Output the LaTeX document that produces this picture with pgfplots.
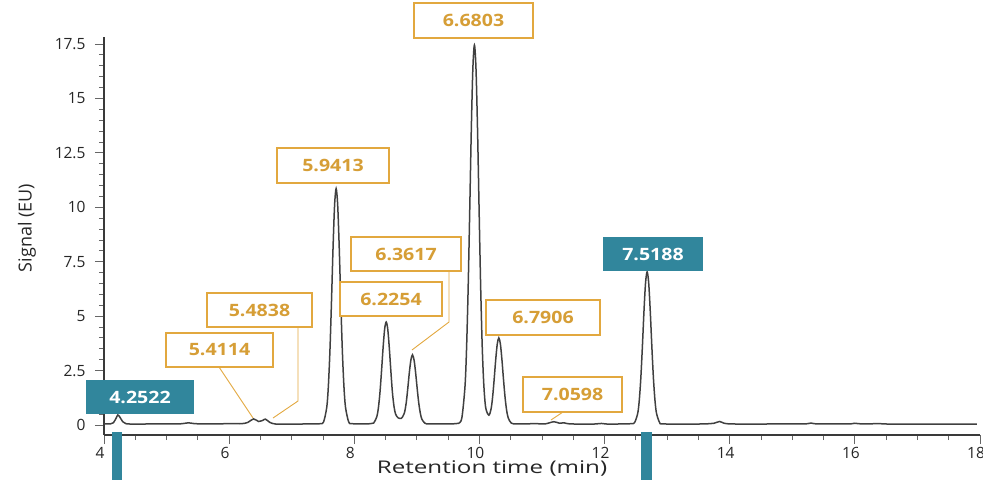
\documentclass[border=0pt]{standalone}
\usepackage{graphicx}
\usepackage{pgfplots}
\pgfplotsset{compat=1.18}
\usepackage{fontspec}
\setmainfont{Open Sans}
\definecolor{teal1}{HTML}{31869C}
\definecolor{goldb}{HTML}{E2A83F}
\definecolor{goldt}{HTML}{D69E36}
\definecolor{axgray}{HTML}{3A3A3A}
\definecolor{trace}{HTML}{404040}
\pgfplotstableread{
x y
4.00 0.05
4.10 0.05
4.15 0.10
4.20 0.35
4.22 0.46
4.25 0.38
4.30 0.15
4.35 0.06
4.50 0.04
4.80 0.05
5.20 0.05
5.35 0.10
5.45 0.06
5.70 0.05
6.00 0.06
6.20 0.06
6.30 0.12
6.39 0.28
6.47 0.16
6.53 0.20
6.58 0.27
6.65 0.12
6.75 0.04
7.00 0.04
7.30 0.05
7.46 0.06
7.51 0.145
7.56 0.81
7.585 1.75
7.61 3.35
7.635 5.60
7.66 8.09
7.685 10.08
7.71 10.85
7.735 10.08
7.76 8.09
7.785 5.60
7.81 3.35
7.835 1.75
7.86 0.81
7.91 0.145
7.96 0.06
8.20 0.05
8.26 0.06
8.31 0.09
8.36 0.38
8.385 0.78
8.41 1.48
8.435 2.46
8.46 3.53
8.485 4.40
8.51 4.73
8.535 4.40
8.56 3.53
8.585 2.46
8.61 1.48
8.635 0.85
8.66 0.50
8.70 0.33
8.75 0.30
8.78 0.42
8.805 0.60
8.83 1.02
8.855 1.68
8.88 2.41
8.905 2.99
8.93 3.22
8.955 2.99
8.98 2.41
9.005 1.68
9.03 1.02
9.055 0.55
9.08 0.27
9.13 0.08
9.20 0.05
9.50 0.05
9.62 0.06
9.67 0.08
9.72 0.34
9.77 1.80
9.795 3.58
9.82 6.31
9.845 9.85
9.87 13.54
9.895 16.37
9.92 17.45
9.945 16.37
9.97 13.54
9.995 9.85
10.02 6.31
10.045 3.58
10.07 1.85
10.10 0.80
10.15 0.45
10.185 0.72
10.21 1.26
10.235 2.08
10.26 2.99
10.285 3.72
10.31 4.00
10.335 3.72
10.36 2.99
10.385 2.08
10.41 1.26
10.435 0.67
10.46 0.33
10.51 0.085
10.60 0.05
10.90 0.06
11.05 0.05
11.19 0.15
11.28 0.08
11.35 0.10
11.45 0.05
11.80 0.04
11.95 0.07
12.05 0.04
12.30 0.05
12.43 0.06
12.48 0.11
12.53 0.54
12.555 1.15
12.58 2.19
12.605 3.64
12.63 5.24
12.655 6.53
12.68 7.03
12.705 6.53
12.73 5.24
12.755 3.64
12.78 2.19
12.805 1.15
12.83 0.54
12.88 0.11
12.93 0.05
13.30 0.04
13.60 0.05
13.75 0.08
13.84 0.16
13.95 0.06
14.30 0.04
14.80 0.05
15.20 0.05
15.30 0.09
15.40 0.05
15.90 0.05
16.00 0.08
16.10 0.05
16.40 0.06
16.60 0.04
17.50 0.04
17.95 0.04
}\chromdata
\begin{document}
\begin{tikzpicture}[
  goldbox/.style={draw=goldb, line width=1.3bp, fill=white, text=goldt, minimum height=34bp, inner sep=0pt, font=\fontsize{17bp}{20bp}\selectfont\bfseries},
  tealbox/.style={fill=teal1, text=white, minimum height=34bp, inner sep=0pt, font=\fontsize{17bp}{20bp}\selectfont\bfseries},
  lead/.style={draw=goldb, line width=0.9bp}
]
\begin{axis}[
  scale only axis, width=876bp, height=398bp,
  xmin=4, xmax=18, ymin=-0.46, ymax=17.82,
  axis x line=bottom, axis y line=left,
  axis line style={-, axgray, line width=1.8bp},
  xtick={4,6,...,18}, ytick={0,2.5,...,17.5},
  minor x tick num=3, minor y tick num=4,
  tick align=outside, major tick length=9bp, minor tick length=5bp,
  tick style={black!60, line width=0.8bp},
  ticklabel style={font=\fontsize{15.5bp}{18bp}\selectfont, text=black!85},
  xticklabel style={xshift=-4bp},
  yticklabel style={xshift=-6bp},
  /pgf/number format/assume math mode=true,
  xlabel={\scalebox{1.38}[1]{\fontsize{17.5bp}{20bp}\selectfont Retention time (min)}},
  xlabel style={at={(axis description cs:0.443,0)}, anchor=center, yshift=-33bp, text=black!85},
  ylabel={\fontsize{18bp}{20bp}\selectfont Signal (EU)},
  ylabel style={at={(axis description cs:-0.088,0.52)}, anchor=center, text=black!85},
  clip=false,
]
\addplot[smooth, trace, line width=1.5bp] table[x=x, y=y] {\chromdata};

% leader lines
\draw[lead] (axis cs:5.838,2.664) -- (axis cs:6.381,0.32);
\draw[lead] (axis cs:7.100,4.50) -- (axis cs:7.100,1.10) -- (axis cs:6.701,0.32);
\draw[lead] (axis cs:9.514,7.07) -- (axis cs:9.514,4.73) -- (axis cs:8.922,3.445);
\draw[lead] (axis cs:11.336,0.597) -- (axis cs:11.144,0.23);

% labels
\node[tealbox, minimum width=108bp] at (axis cs:4.575,1.286) {\scalebox{1.15}[1]{4.2522}};
\node[goldbox, minimum width=107bp] at (axis cs:5.846,3.445) {\scalebox{1.15}[1]{5.4114}};
\node[goldbox, minimum width=105bp] at (axis cs:6.485,5.282) {\scalebox{1.15}[1]{5.4838}};
\node[goldbox, minimum width=112bp, minimum height=35bp] at (axis cs:7.660,11.92) {\scalebox{1.15}[1]{5.9413}};
\node[goldbox, minimum width=119bp, minimum height=35bp] at (axis cs:9.905,18.58) {\scalebox{1.15}[1]{6.6803}};
\node[goldbox, minimum width=110bp] at (axis cs:8.827,7.855) {\scalebox{1.15}[1]{6.3617}};
\node[goldbox, minimum width=102bp] at (axis cs:8.587,5.788) {\scalebox{1.15}[1]{6.2254}};
\node[goldbox, minimum width=114bp, minimum height=35bp] at (axis cs:11.016,4.938) {\scalebox{1.15}[1]{6.7906}};
\node[goldbox, minimum width=99bp, minimum height=35bp] at (axis cs:11.488,1.401) {\scalebox{1.15}[1]{7.0598}};
\node[tealbox, minimum width=100bp] at (axis cs:12.774,7.832) {\scalebox{1.15}[1]{7.5188}};

% integration markers below the axis
\fill[teal1] (axis cs:4.128,-0.32) rectangle (axis cs:4.288,-3);
\fill[teal1] (axis cs:12.582,-0.32) rectangle (axis cs:12.758,-3);
\end{axis}
\pgfresetboundingbox
\path[use as bounding box] ([shift={(-104bp,-45bp)}]current axis.south west) rectangle ++(983bp,480bp);
\end{tikzpicture}
\end{document}
